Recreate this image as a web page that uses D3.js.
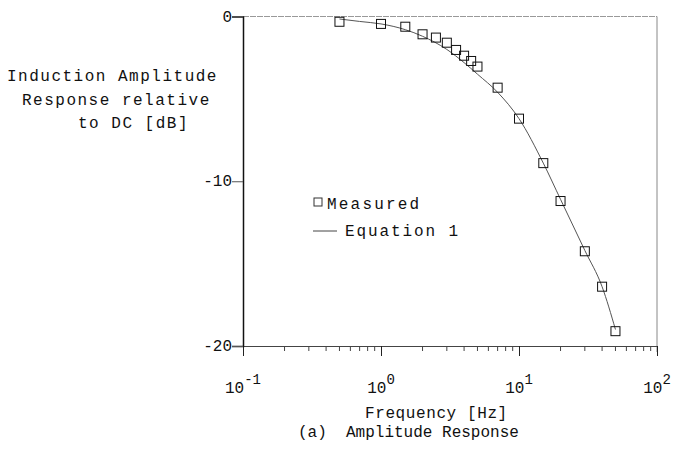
<!DOCTYPE html>
<html>
<head>
<meta charset="utf-8">
<script src="https://cdn.jsdelivr.net/npm/d3@7"></script>
<style>
    body { margin: 0; background: #fff; }
    svg text { font-family: "Liberation Mono", "DejaVu Sans Mono", monospace; fill: #111; }
</style>
</head>
<body>
<script>
// Measured points, frequency [Hz] and response [dB]
var measFreq = [0.5, 1, 1.5, 2, 2.5, 3, 3.5, 4, 4.5, 5, 7, 10, 15, 20, 30, 40, 50];
var measDb = [-0.32, -0.45, -0.62, -1.08, -1.28, -1.59, -2.03, -2.38, -2.70, -3.04, -4.32, -6.2, -8.9, -11.2, -14.25, -16.4, -19.1];

// Equation 1 curve
var eqFreq = [0.5, 0.7, 1, 1.5, 2, 3, 4, 5, 7, 10, 15, 20, 30, 40, 50];
var eqDb = [-0.15, -0.3, -0.45, -0.8, -1.2, -2.0, -2.8, -3.5, -4.6, -6.2, -8.9, -11.1, -14.2, -16.4, -19.0];

// Tick labels
var yTicks = [0, -10, -20];
var yTickLabels = ["0", "-10", "-20"];
var xDecades = [0.1, 1, 10, 100];
var xExponents = ["-1", "0", "1", "2"];

(function(){

    var width = 675,
        height = 451;

    var svg = d3.select('body')
        .append('svg')
        .attr('width', width)
        .attr('height', height);

    // scales
    var x = d3.scaleLog().domain([0.1, 100]).range([243, 657]);
    var y = d3.scaleLinear().domain([-20, 0]).range([346, 16.5]);

    // frame: top and right edges are faint in the scan
    svg.append('line')
        .attr('x1', x(0.1)).attr('x2', x(100))
        .attr('y1', y(0)).attr('y2', y(0))
        .attr('stroke', '#999').attr('stroke-width', 1)
        .attr('stroke-dasharray', '6,1');
    svg.append('line')
        .attr('x1', x(100)).attr('x2', x(100))
        .attr('y1', y(0)).attr('y2', y(-20) + 6)
        .attr('stroke', '#888').attr('stroke-width', 1);

    // bottom axis with minor ticks
    var minor = [];
    for (var d = 0; d < 3; d++) {
        for (var k = 2; k <= 9; k++) minor.push(xDecades[d] * k);
    }
    var xAxis = d3.axisBottom(x)
        .tickValues(xDecades)
        .tickSize(10)
        .tickFormat('');
    var gx = svg.append('g')
        .attr('transform', 'translate(0,' + y(-20) + ')')
        .call(xAxis);
    gx.select('.domain').attr('stroke', '#444').attr('stroke-width', 1);
    gx.selectAll('.tick line').attr('stroke', '#222');
    gx.selectAll('.minor')
        .data(minor)
        .enter()
        .append('line')
        .attr('class', 'minor')
        .attr('x1', function(v){ return x(v); })
        .attr('x2', function(v){ return x(v); })
        .attr('y1', 0).attr('y2', 5)
        .attr('stroke', '#444');

    // left axis
    var yAxis = d3.axisLeft(y)
        .tickValues(yTicks)
        .tickSize(11)
        .tickFormat('');
    var gy = svg.append('g')
        .attr('transform', 'translate(' + x(0.1) + ',0)')
        .call(yAxis);
    gy.select('.domain').attr('stroke', '#111').attr('stroke-width', 1.5);
    gy.selectAll('.tick line').attr('stroke', '#555');

    // y tick labels
    svg.selectAll('.ylab')
        .data(yTicks)
        .enter()
        .append('text')
        .attr('class', 'ylab')
        .attr('x', 232)
        .attr('y', function(v){ return y(v) + 5; })
        .attr('text-anchor', 'end')
        .style('font-size', '16px')
        .text(function(v, i){ return yTickLabels[i]; });

    // x tick labels, 10 with exponent
    var xl = svg.selectAll('.xlab')
        .data(xDecades)
        .enter()
        .append('text')
        .attr('class', 'xlab')
        .attr('x', function(v){ return x(v); })
        .attr('y', 393)
        .attr('text-anchor', 'middle')
        .style('font-size', '16px');
    xl.append('tspan').text('10');
    xl.append('tspan')
        .attr('dy', -9)
        .style('font-size', '14px')
        .text(function(v, i){ return xExponents[i]; });

    // axis titles
    var yTitle = ["Induction Amplitude", "Response relative", "to DC [dB]"];
    var yTitleX = [7, 22, 78];
    svg.selectAll('.ytitle')
        .data(yTitle)
        .enter()
        .append('text')
        .attr('class', 'ytitle')
        .attr('x', function(t, i){ return yTitleX[i]; })
        .attr('y', function(t, i){ return 81 + i * 23.5; })
        .style('font-size', '16px')
        .style('letter-spacing', '1.5px')
        .text(function(t){ return t; });

    svg.append('text')
        .attr('x', 365).attr('y', 418)
        .style('font-size', '16px')
        .style('letter-spacing', '0.6px')
        .text('Frequency [Hz]');
    svg.append('text')
        .attr('x', 298).attr('y', 437)
        .style('font-size', '16px')
        .style('white-space', 'pre')
        .text('(a)  Amplitude Response');

    // Equation 1 line
    var eqData = eqFreq.map(function(f, i){ return [f, eqDb[i]]; });
    var line = d3.line()
        .x(function(p){ return x(p[0]); })
        .y(function(p){ return y(p[1]); })
        .curve(d3.curveMonotoneX);
    svg.append('path')
        .datum(eqData)
        .attr('d', line)
        .attr('fill', 'none')
        .attr('stroke', '#555')
        .attr('stroke-width', 1);

    // measured squares
    var s = 9;
    svg.selectAll('.meas')
        .data(measFreq)
        .enter()
        .append('rect')
        .attr('class', 'meas')
        .attr('x', function(f){ return x(f) - s / 2; })
        .attr('y', function(f, i){ return y(measDb[i]) - s / 2; })
        .attr('width', s)
        .attr('height', s)
        .attr('fill', 'none')
        .attr('stroke', '#111')
        .attr('stroke-width', 1);

    // legend
    svg.append('rect')
        .attr('x', 314).attr('y', 198)
        .attr('width', 8).attr('height', 8)
        .attr('fill', 'none')
        .attr('stroke', '#333');
    svg.append('text')
        .attr('x', 327).attr('y', 209)
        .style('font-size', '16px')
        .style('letter-spacing', '2.2px')
        .text('Measured');
    svg.append('line')
        .attr('x1', 313).attr('x2', 337)
        .attr('y1', 231).attr('y2', 231)
        .attr('stroke', '#444');
    svg.append('text')
        .attr('x', 345).attr('y', 236)
        .style('font-size', '16px')
        .style('letter-spacing', '1.9px')
        .text('Equation 1');

})();
</script>
</body>
</html>
